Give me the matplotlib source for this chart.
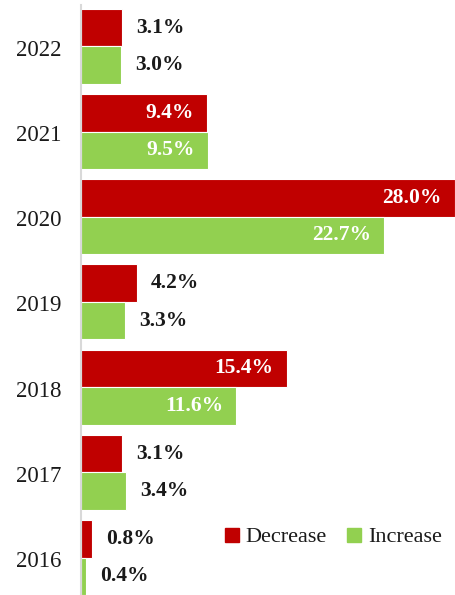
import matplotlib
matplotlib.use("Agg")
import matplotlib.pyplot as plt
from matplotlib.lines import Line2D
import matplotlib.transforms as mtransforms
import numpy as np

years = ["2016", "2017", "2018", "2019", "2020", "2021", "2022"]
decrease = [0.8, 3.1, 15.4, 4.2, 28.0, 9.4, 3.1]
increase = [0.4, 3.4, 11.6, 3.3, 22.7, 9.5, 3.0]
series_names = ["Decrease", "Increase"]
colors = ["#C00000", "#92D050"]

plt.rcParams['font.family'] = ['Liberation Serif', 'DejaVu Serif']

fig = plt.figure(figsize=(4.55, 5.95), dpi=100)
ax = fig.add_axes([81/455, 0.0, 1 - 81/455, 1 - 5/595])

y = np.arange(len(years))
h = 0.44
bars_d = ax.barh(y + h/2, decrease, height=h, color=colors[0], edgecolor="white", linewidth=0.8)
bars_i = ax.barh(y - h/2, increase, height=h, color=colors[1], edgecolor="white", linewidth=0.8)

ax.set_xlim(0, 28.0)
ax.set_ylim(-0.44, 6.485)
ax.set_yticks(y)
ax.set_yticklabels(years, fontsize=16.5, color="#1a1a1a")
ax.tick_params(axis="y", length=0, pad=14)
offset = mtransforms.ScaledTranslation(0, -1.5/100, fig.dpi_scale_trans)
for lbl in ax.get_yticklabels():
    lbl.set_transform(lbl.get_transform() + offset)
ax.set_xticks([])
for s in ["top", "right", "bottom"]:
    ax.spines[s].set_visible(False)
ax.spines["left"].set_color("#D9D9D9")
ax.spines["left"].set_linewidth(1.5)

threshold = 9.0
for bars, vals in ((bars_d, decrease), (bars_i, increase)):
    for b, v in zip(bars, vals):
        yc = b.get_y() + b.get_height()/2
        txt = f"{v:.1f}%"
        if v >= threshold:
            ax.annotate(txt, (v, yc), xytext=(-13, 0), textcoords="offset pixels",
                        ha="right", va="center", color="white", fontsize=15.5, fontweight="bold")
        else:
            ax.annotate(txt, (v, yc), xytext=(14, 0), textcoords="offset pixels",
                        ha="left", va="center", color="#1a1a1a", fontsize=15.5, fontweight="bold")

handles = [Line2D([], [], marker="s", linestyle="none", markersize=10,
                  markerfacecolor=c, markeredgecolor=c) for c in colors]
leg = ax.legend(handles, series_names, loc="center right", bbox_to_anchor=(1.0, (595-537)/590),
                bbox_transform=ax.transAxes, ncol=2, frameon=False, fontsize=16,
                handlelength=0.7, handletextpad=0.25, columnspacing=0.9, borderaxespad=0.2)
for t in leg.get_texts():
    t.set_color("#1a1a1a")

fig.savefig("out.png", dpi=100)
